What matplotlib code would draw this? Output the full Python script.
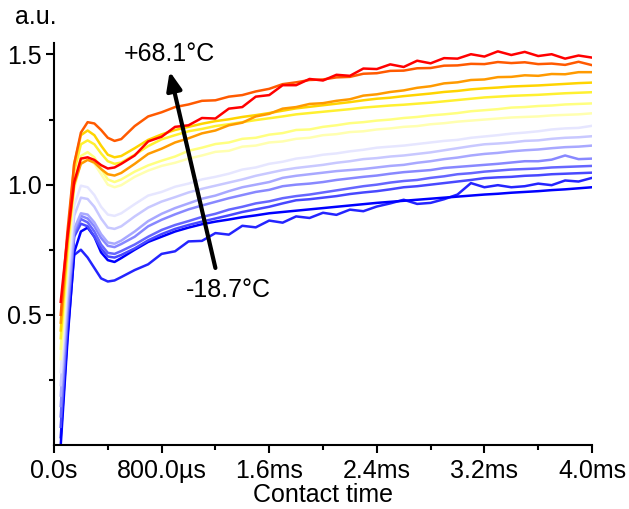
import matplotlib
matplotlib.use("Agg")
import matplotlib.pyplot as plt
from matplotlib.ticker import FixedLocator

plt.rcParams['font.family'] = ['Liberation Sans', 'DejaVu Sans']

# contact time (ms)
t_ms = [0.05, 0.1, 0.15, 0.2, 0.25, 0.3, 0.35, 0.4, 0.45, 0.5,
        0.6, 0.7, 0.8, 0.9, 1.0, 1.1, 1.2, 1.3, 1.4, 1.5,
        1.6, 1.7, 1.8, 1.9, 2.0, 2.1, 2.2, 2.3, 2.4, 2.5,
        2.6, 2.7, 2.8, 2.9, 3.0, 3.1, 3.2, 3.3, 3.4, 3.5,
        3.6, 3.7, 3.8, 3.9, 4.0]

# signal (a.u.), coldest to hottest
blue_00 = [0.0, 0.40, 0.74, 0.82, 0.835, 0.80, 0.74, 0.71, 0.703, 0.718,
           0.75, 0.78, 0.80, 0.82, 0.835, 0.848, 0.858, 0.866, 0.875, 0.882,
           0.89, 0.895, 0.90, 0.905, 0.91, 0.915, 0.92, 0.925, 0.93, 0.934,
           0.938, 0.942, 0.946, 0.95, 0.954, 0.958, 0.962, 0.965, 0.969, 0.972,
           0.975, 0.979, 0.982, 0.986, 0.99]
blue_22 = [0.03, 0.42, 0.73, 0.75, 0.72, 0.68, 0.64, 0.628, 0.632, 0.645,
           0.672, 0.694, 0.734, 0.744, 0.782, 0.784, 0.814, 0.808, 0.842, 0.836,
           0.862, 0.854, 0.878, 0.872, 0.892, 0.884, 0.904, 0.898, 0.916, 0.928,
           0.942, 0.926, 0.93, 0.944, 0.962, 1.006, 0.99, 0.998, 0.99, 0.994,
           1.004, 0.998, 1.016, 1.012, 1.026]
blue_44 = [0.07, 0.47, 0.80, 0.85, 0.84, 0.80, 0.755, 0.724, 0.72, 0.73,
           0.755, 0.786, 0.81, 0.83, 0.845, 0.858, 0.87, 0.882, 0.895, 0.905,
           0.915, 0.928, 0.94, 0.944, 0.95, 0.956, 0.964, 0.97, 0.975, 0.982,
           0.99, 0.994, 1.0, 1.006, 1.012, 1.018, 1.025, 1.028, 1.03, 1.034,
           1.036, 1.04, 1.042, 1.044, 1.046]
blue_66 = [0.11, 0.50, 0.81, 0.868, 0.855, 0.82, 0.77, 0.738, 0.734, 0.745,
           0.77, 0.80, 0.826, 0.845, 0.86, 0.876, 0.888, 0.904, 0.915, 0.928,
           0.936, 0.948, 0.956, 0.962, 0.97, 0.978, 0.986, 0.994, 1.0, 1.008,
           1.014, 1.018, 1.026, 1.032, 1.04, 1.044, 1.05, 1.054, 1.058, 1.06,
           1.062, 1.066, 1.068, 1.07, 1.072]
blue_88 = [0.15, 0.53, 0.82, 0.88, 0.87, 0.84, 0.795, 0.765, 0.76, 0.772,
           0.80, 0.84, 0.865, 0.886, 0.905, 0.92, 0.934, 0.948, 0.96, 0.972,
           0.98, 0.994, 1.0, 1.004, 1.01, 1.018, 1.024, 1.03, 1.035, 1.042,
           1.048, 1.052, 1.056, 1.064, 1.068, 1.072, 1.076, 1.08, 1.085, 1.09,
           1.09, 1.096, 1.112, 1.098, 1.10]
lav_aa = [0.19, 0.56, 0.83, 0.89, 0.885, 0.855, 0.81, 0.778, 0.773, 0.785,
          0.82, 0.86, 0.888, 0.91, 0.928, 0.946, 0.958, 0.975, 0.99, 1.0,
          1.01, 1.026, 1.034, 1.04, 1.046, 1.052, 1.056, 1.06, 1.066, 1.072,
          1.076, 1.084, 1.09, 1.098, 1.104, 1.112, 1.118, 1.122, 1.128, 1.132,
          1.135, 1.14, 1.144, 1.146, 1.15]
lav_cc = [0.23, 0.60, 0.88, 0.95, 0.945, 0.915, 0.87, 0.835, 0.83, 0.84,
          0.878, 0.912, 0.935, 0.952, 0.97, 0.984, 0.996, 1.008, 1.02, 1.034,
          1.045, 1.056, 1.064, 1.07, 1.076, 1.084, 1.09, 1.098, 1.102, 1.108,
          1.112, 1.118, 1.124, 1.132, 1.14, 1.148, 1.155, 1.158, 1.162, 1.168,
          1.17, 1.176, 1.18, 1.182, 1.186]
lav_e6 = [0.28, 0.64, 0.92, 0.996, 0.99, 0.96, 0.915, 0.885, 0.88, 0.89,
          0.925, 0.958, 0.972, 0.992, 1.004, 1.02, 1.03, 1.042, 1.058, 1.066,
          1.08, 1.088, 1.10, 1.106, 1.115, 1.12, 1.128, 1.134, 1.142, 1.146,
          1.15, 1.156, 1.162, 1.168, 1.172, 1.18, 1.185, 1.19, 1.196, 1.2,
          1.205, 1.212, 1.216, 1.218, 1.226]
pale_yellow = [0.33, 0.69, 0.98, 1.09, 1.10, 1.08, 1.04, 1.0, 0.99, 0.998,
               1.03, 1.054, 1.072, 1.084, 1.10, 1.112, 1.126, 1.13, 1.146, 1.15,
               1.162, 1.166, 1.176, 1.18, 1.19, 1.194, 1.202, 1.205, 1.212, 1.216,
               1.222, 1.225, 1.232, 1.236, 1.242, 1.246, 1.25, 1.254, 1.258, 1.26,
               1.262, 1.266, 1.268, 1.27, 1.274]
light_yellow = [0.37, 0.72, 1.0, 1.11, 1.125, 1.105, 1.06, 1.02, 1.01, 1.02,
                1.05, 1.074, 1.092, 1.108, 1.13, 1.142, 1.156, 1.162, 1.176, 1.18,
                1.192, 1.198, 1.21, 1.212, 1.222, 1.228, 1.236, 1.24, 1.246, 1.25,
                1.256, 1.26, 1.266, 1.27, 1.275, 1.282, 1.286, 1.29, 1.296, 1.298,
                1.302, 1.304, 1.308, 1.31, 1.312]
yellow = [0.41, 0.75, 1.05, 1.155, 1.17, 1.155, 1.12, 1.09, 1.08, 1.085,
          1.115, 1.148, 1.174, 1.19, 1.205, 1.214, 1.225, 1.232, 1.24, 1.248,
          1.255, 1.262, 1.27, 1.275, 1.28, 1.285, 1.29, 1.296, 1.30, 1.304,
          1.307, 1.311, 1.315, 1.32, 1.325, 1.33, 1.335, 1.338, 1.341, 1.343,
          1.345, 1.348, 1.351, 1.353, 1.355]
gold = [0.44, 0.78, 1.08, 1.19, 1.208, 1.19, 1.15, 1.115, 1.105, 1.11,
        1.14, 1.172, 1.193, 1.21, 1.222, 1.234, 1.244, 1.251, 1.26, 1.267,
        1.275, 1.284, 1.293, 1.299, 1.305, 1.311, 1.317, 1.324, 1.33, 1.334,
        1.34, 1.345, 1.35, 1.356, 1.36, 1.366, 1.37, 1.373, 1.377, 1.379,
        1.381, 1.384, 1.387, 1.39, 1.392]
orange = [0.47, 0.78, 1.00, 1.08, 1.095, 1.085, 1.06, 1.04, 1.035, 1.045,
          1.08, 1.118, 1.138, 1.162, 1.178, 1.197, 1.208, 1.228, 1.238, 1.262,
          1.272, 1.292, 1.298, 1.31, 1.313, 1.322, 1.328, 1.342, 1.347, 1.356,
          1.362, 1.372, 1.378, 1.389, 1.393, 1.402, 1.404, 1.413, 1.414, 1.42,
          1.418, 1.425, 1.424, 1.432, 1.432]
orange_red = [0.50, 0.82, 1.08, 1.20, 1.24, 1.235, 1.21, 1.18, 1.168, 1.175,
              1.225, 1.262, 1.278, 1.298, 1.308, 1.322, 1.324, 1.338, 1.344, 1.358,
              1.368, 1.386, 1.393, 1.402, 1.404, 1.412, 1.414, 1.426, 1.428, 1.437,
              1.438, 1.447, 1.448, 1.457, 1.458, 1.464, 1.463, 1.471, 1.467, 1.470,
              1.463, 1.465, 1.460, 1.472, 1.459]
red = [0.55, 0.80, 1.01, 1.10, 1.105, 1.095, 1.075, 1.062, 1.066, 1.08,
       1.112, 1.166, 1.184, 1.222, 1.228, 1.256, 1.254, 1.292, 1.298, 1.338,
       1.344, 1.382, 1.382, 1.406, 1.400, 1.422, 1.418, 1.446, 1.444, 1.462,
       1.452, 1.476, 1.466, 1.486, 1.484, 1.501, 1.492, 1.512, 1.498, 1.51,
       1.494, 1.501, 1.484, 1.496, 1.488]

series = [blue_22, blue_00, blue_44, blue_66, blue_88, lav_aa, lav_cc, lav_e6,
          pale_yellow, light_yellow, yellow, gold, orange, orange_red, red]
colors = ['#2424FF', '#0000FF', '#4848FF', '#6666FF', '#8888FF', '#A8A8FF',
          '#C8C8FF', '#E6E6FF', '#FFFFB0', '#FFFF80', '#FFF030', '#FFD400',
          '#FF9A00', '#FF5A00', '#FF0000']

x_ticks = [0.0, 0.8, 1.6, 2.4, 3.2, 4.0]
x_tick_labels = ['0.0s', '800.0\u00b5s', '1.6ms', '2.4ms', '3.2ms', '4.0ms']
y_ticks = [0.5, 1.0, 1.5]
y_tick_labels = ['0.5', '1.0', '1.5']

fig = plt.figure(figsize=(6.29, 5.09), dpi=100)
ax = fig.add_axes([54 / 629, 64 / 509, 538 / 629, 402.5 / 509])

for ys, c in zip(series, colors):
    ax.plot(t_ms, ys, color=c, lw=1.8, solid_joinstyle='round')

ax.set_xlim(0, 4.0)
ax.set_ylim(0, 1.546)

for side in ('top', 'right'):
    ax.spines[side].set_visible(False)
for side in ('left', 'bottom'):
    ax.spines[side].set_linewidth(1.5)

ax.set_xticks(x_ticks)
ax.set_xticklabels(x_tick_labels)
ax.set_yticks(y_ticks)
ax.set_yticklabels(y_tick_labels)
ax.xaxis.set_minor_locator(FixedLocator([0.4, 1.2, 2.0, 2.8, 3.6]))
ax.yaxis.set_minor_locator(FixedLocator([0.25, 0.75, 1.25]))
ax.tick_params(which='major', direction='out', length=6, width=1.5,
               labelsize=18, color='black')
ax.tick_params(which='minor', direction='out', length=3.5, width=1.5)
ax.tick_params(axis='x', which='major', pad=4)
ax.tick_params(axis='y', which='major', pad=3)

ax.set_xlabel('Contact time', fontsize=18, labelpad=0)
fig.text(15 / 629, 1 - 17 / 509, 'a.u.', fontsize=18, ha='left', va='center')

# temperature arrow
ax.annotate('', xy=(0.86, 1.435), xytext=(1.2, 0.68),
            arrowprops=dict(arrowstyle='-|>,head_length=1.1,head_width=0.45',
                            lw=3, color='black', shrinkA=0, shrinkB=0))
ax.text(0.86, 1.50, '+68.1\u00b0C', fontsize=18, ha='center', va='center')
ax.text(1.3, 0.595, '-18.7\u00b0C', fontsize=18, ha='center', va='center')

fig.savefig('out.png', dpi=100)
